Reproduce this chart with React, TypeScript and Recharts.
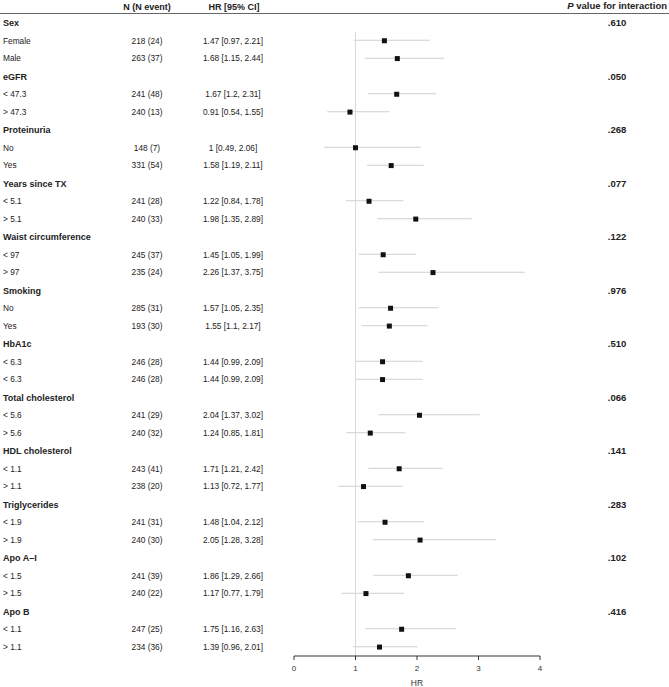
import React from 'react';
import { ComposedChart, Bar, Scatter, XAxis, YAxis, ReferenceLine, Customized } from 'recharts';

const groupNames = ['Sex', 'eGFR', 'Proteinuria', 'Years since TX', 'Waist circumference', 'Smoking', 'HbA1c',
    'Total cholesterol', 'HDL cholesterol', 'Triglycerides', 'Apo A\u2013I', 'Apo B'];
const pValues = ['.610', '.050', '.268', '.077', '.122', '.976', '.510', '.066', '.141', '.283', '.102', '.416'];

const subLabels = ['Female', 'Male', '< 47.3', '> 47.3', 'No', 'Yes', '< 5.1', '> 5.1', '< 97', '> 97', 'No', 'Yes',
    '< 6.3', '< 6.3', '< 5.6', '> 5.6', '< 1.1', '> 1.1', '< 1.9', '> 1.9', '< 1.5', '> 1.5', '< 1.1', '> 1.1'];
const nTotal = [218, 263, 241, 240, 148, 331, 241, 240, 245, 235, 285, 193, 246, 246, 241, 240, 243, 238, 241, 240, 241, 240, 247, 234];
const nEvent = [24, 37, 48, 13, 7, 54, 28, 33, 37, 24, 31, 30, 28, 28, 29, 32, 41, 20, 31, 30, 39, 22, 25, 36];
const hrEst = [1.47, 1.68, 1.67, 0.91, 1, 1.58, 1.22, 1.98, 1.45, 2.26, 1.57, 1.55, 1.44, 1.44, 2.04, 1.24, 1.71, 1.13, 1.48, 2.05, 1.86, 1.17, 1.75, 1.39];
const ciLow = [0.97, 1.15, 1.2, 0.54, 0.49, 1.19, 0.84, 1.35, 1.05, 1.37, 1.05, 1.1, 0.99, 0.99, 1.37, 0.85, 1.21, 0.72, 1.04, 1.28, 1.29, 0.77, 1.16, 0.96];
const ciHigh = [2.21, 2.44, 2.31, 1.55, 2.06, 2.11, 1.78, 2.89, 1.99, 3.75, 2.35, 2.17, 2.09, 2.09, 3.02, 1.81, 2.42, 1.77, 2.12, 3.28, 2.66, 1.79, 2.63, 2.01];
const hrTicks = [0, 1, 2, 3, 4];

interface Row {
    id: string;
    label: string;
    bold: boolean;
    p?: string;
    nText?: string;
    hrText?: string;
    hr?: number;
    ci?: [number, number];
}

const rows: Row[] = [];
groupNames.forEach((g, gi) => {
    rows.push({ id: `g${gi}`, label: g, bold: true, p: pValues[gi] });
    [0, 1].forEach((k) => {
        const i = gi * 2 + k;
        rows.push({
            id: `s${i}`,
            label: subLabels[i],
            bold: false,
            nText: `${nTotal[i]} (${nEvent[i]})`,
            hrText: `${hrEst[i]} [${ciLow[i]}, ${ciHigh[i]}]`,
            hr: hrEst[i],
            ci: [ciLow[i], ciHigh[i]],
        });
    });
});

const FONT = '"Liberation Sans", Arial, Helvetica, sans-serif';

const RowTick = (props: any) => {
    const { y, payload } = props;
    const row = rows.find((r) => r.id === payload.value);
    if (!row) return null;
    return (
        <g fontFamily={FONT} fontSize={8.3} fill="#222">
            <text x={3} y={y} dy="0.35em" fontWeight={row.bold ? 'bold' : 'normal'} fontSize={row.bold ? 9 : 8.3}>
                {row.label}
            </text>
            {row.nText && <text x={147} y={y} dy="0.35em" textAnchor="middle">{row.nText}</text>}
            {row.hrText && <text x={233} y={y} dy="0.35em" textAnchor="middle">{row.hrText}</text>}
            {row.p && <text x={617} y={y} dy="0.35em" textAnchor="middle" fontWeight="bold" fontSize={9.5}>{row.p}</text>}
        </g>
    );
};

const SquareDot = (props: any) => {
    const { cx, cy, payload } = props;
    if (payload == null || payload.hr == null || cx == null || cy == null) return null;
    return <rect x={cx - 2.5} y={cy - 2.5} width={5} height={5} fill="#111" />;
};

// null line: skip the first (group header) row band at the top
const NullLine = (props: any) => {
    const { x1, x2, y1, y2 } = props;
    if (x1 == null || y1 == null) return null;
    const top = Math.min(y1, y2);
    const bottom = Math.max(y1, y2);
    const band = (bottom - top) / rows.length;
    return <line x1={x1} x2={x2} y1={top + band} y2={bottom} stroke="#d8d8d8" strokeWidth={1} />;
};

const Header = () => (
    <g fontFamily={FONT} fontSize={9} fontWeight="bold" fill="#222">
        <text x={147} y={6.5} dy="0.35em" textAnchor="middle">N (N event)</text>
        <text x={234} y={6.5} dy="0.35em" textAnchor="middle">HR [95% CI]</text>
        <text x={667} y={6} dy="0.35em" textAnchor="end" fontSize={9.5}>
            <tspan fontStyle="italic">P</tspan> value for interaction
        </text>
        <line x1={0} x2={669} y1={13.5} y2={13.5} stroke="#666" strokeWidth={1} />
    </g>
);

export default function App() {
    return (
        <div style={{ position: 'absolute', left: 0, top: 0 }}>
            <ComposedChart
                width={669}
                height={687}
                data={rows}
                layout="vertical"
                margin={{ top: 14, right: 129, left: 0, bottom: 0 }}
                barCategoryGap={0}
            >
                <XAxis
                    type="number"
                    dataKey="hr"
                    domain={[0, 4]}
                    ticks={hrTicks}
                    height={31}
                    tickSize={4}
                    tickMargin={5}
                    stroke="#333"
                    tick={{ fontSize: 8, fill: '#333', fontFamily: FONT }}
                    label={{ value: 'HR', position: 'insideBottom', offset: 1, fontSize: 8.5, fill: '#333', fontFamily: FONT }}
                />
                <YAxis
                    type="category"
                    dataKey="id"
                    width={294}
                    interval={0}
                    axisLine={false}
                    tickLine={false}
                    tick={<RowTick />}
                />
                <ReferenceLine x={1} stroke="#d8d8d8" strokeWidth={1} shape={<NullLine />} />
                <Bar dataKey="ci" barSize={1} fill="#cfcfcf" isAnimationActive={false} />
                <Scatter dataKey="hr" shape={<SquareDot />} isAnimationActive={false} />
                <Customized component={Header} />
            </ComposedChart>
        </div>
    );
}
